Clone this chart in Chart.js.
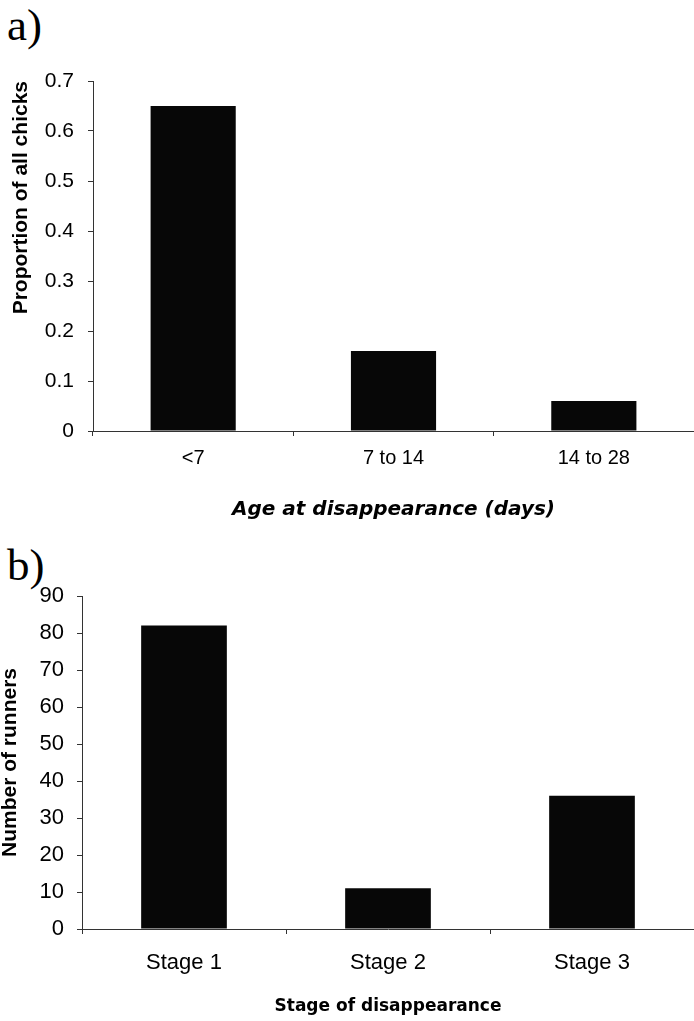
<!DOCTYPE html>
<html>
<head>
<meta charset="utf-8">
<script src="https://cdn.jsdelivr.net/npm/chart.js@4.4.1/dist/chart.umd.min.js"></script>
<style>
  html,body{margin:0;padding:0;background:#fff;}
  body{width:694px;height:1021px;position:relative;overflow:hidden;}
  .panel{position:absolute;left:7px;font-family:'Liberation Serif',serif;font-size:45px;color:#000;line-height:1;}
  .wrap{position:absolute;left:0;width:694px;}
</style>
</head>
<body>
<div class="panel" style="top:3px">a)</div>
<div class="panel" style="top:543px">b)</div>
<div class="wrap" style="top:50px;height:480px"><canvas id="chartA"></canvas></div>
<div class="wrap" style="top:550px;height:471px"><canvas id="chartB"></canvas></div>
<script>
// a) 消失時の日齢
const ageLabels   = ['<7','7 to 14','14 to 28'];
const ageValues   = [0.65, 0.16, 0.06];
// b) 消失ステージ
const stageLabels = ['Stage 1','Stage 2','Stage 3'];
const stageValues = [82, 11, 36];

const SANS = "'Liberation Sans', Arial, sans-serif";
const WIDE = "'DejaVu Sans', sans-serif";

const makeChart = (id, labels, values, o) => {
  return new Chart(document.getElementById(id), {
    type:'bar',
    data:{labels, datasets:[{data:values, backgroundColor:'#070707', borderWidth:0, barPercentage:o.barPct, categoryPercentage:1}]},
    options:{
      responsive:true, maintainAspectRatio:false, animation:false,
      layout:{padding:{top:o.padTop, right:0, left:0, bottom:0}},
      plugins:{legend:{display:false}, tooltip:{enabled:false}},
      scales:{
        x:{
          grid:{display:true, offset:true, drawOnChartArea:false, drawTicks:true, tickLength:5, color:'#333'},
          border:{display:true, color:'#333', width:1, dash:[2,1]},
          ticks:{color:'#000', font:{family:SANS, size:o.xTickSize}, padding:o.xTickPad, maxRotation:0},
          title:{display:true, text:o.xTitle, color:'#000', font:{family:WIDE, size:o.xTitleSize, weight:'bold', style:o.xTitleStyle}, padding:{top:0, bottom:o.xTitlePad}},
          afterFit:s=>{s.height=o.xHeight;}
        },
        y:{
          min:0, max:o.yMax,
          grid:{display:true, drawOnChartArea:false, drawTicks:true, tickLength:5, color:'#333'},
          border:{display:true, color:'#333', width:1, dash:[2,1]},
          ticks:{stepSize:o.yStep, color:'#000', font:{family:SANS, size:o.yTickSize}, padding:o.yTickPad},
          title:{display:true, text:o.yTitle, align:o.yTitleAlign, color:'#000', font:{family:SANS, size:21, weight:'bold', lineHeight:1}, padding:{top:o.yTitlePad, bottom:0}},
          afterFit:s=>{s.width=o.yWidth;}
        }
      }
    }
  });
};

makeChart('chartA', ageLabels, ageValues, {
  barPct:0.425, padTop:31, yMax:0.7, yStep:0.1, yWidth:93, xHeight:99,
  xTickSize:20, xTickPad:10, yTickSize:21, yTickPad:14,
  xTitle:'Age at disappearance (days)', xTitleSize:20, xTitleStyle:'italic', xTitlePad:8,
  yTitle:'Proportion of all chicks', yTitleAlign:'end', yTitlePad:11
});

makeChart('chartB', stageLabels, stageValues, {
  barPct:0.42, padTop:46, yMax:90, yStep:10, yWidth:82, xHeight:92,
  xTickSize:22, xTickPad:16, yTickSize:22, yTickPad:13,
  xTitle:'Stage of disappearance', xTitleSize:17, xTitleStyle:'normal', xTitlePad:4,
  yTitle:'Number of runners', yTitleAlign:'center', yTitlePad:0
});
</script>
</body>
</html>
